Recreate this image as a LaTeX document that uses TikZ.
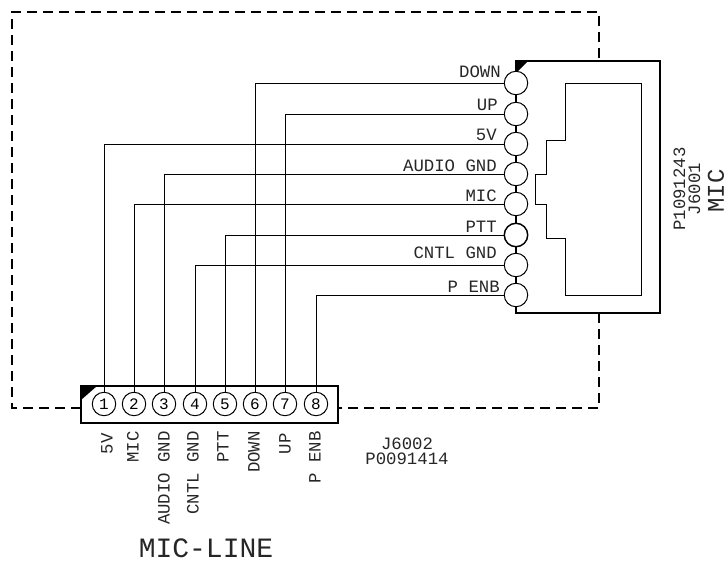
\documentclass[tikz,border=0pt]{standalone}
\usepackage{fontspec}
\setmonofont{Liberation Mono}
\usepackage{tikz}

\begin{document}
\begin{tikzpicture}[x=0.75pt, y=-0.75pt,
  pin/.style={circle, draw, fill=white, line width=0.75pt, inner sep=0pt, minimum size=17.6pt, font=\ttfamily\fontsize{12}{12}\selectfont},
  body/.style={rectangle, draw, line width=1.6pt, inner sep=0pt, outer sep=0pt},
  wire/.style={line width=0.7pt},
  boundary/.style={line width=1.4pt, dash pattern=on 7.5pt off 4.5pt},
  label/.style={font=\ttfamily\fontsize{13}{11.25}\selectfont, inner sep=0pt, align=center, text=black!85},
  big/.style={font=\ttfamily\fontsize{21}{21}\selectfont, inner sep=0pt, text=black!85}]

\useasboundingbox (0, 0) rectangle (728, 563);

\coordinate (nw) at (12, 12);
\coordinate (ne) at (599, 12);
\coordinate (sw) at (12, 408);
\coordinate (se) at (599, 408);
\coordinate (mictop) at (599, 61);
\coordinate (micbottom) at (599, 313);
\coordinate (lineleft) at (81, 408);
\coordinate (lineright) at (338, 408);

\draw [boundary] (lineleft) -- (sw) -- (nw) -- (ne) -- (mictop);
\draw [boundary] (micbottom) -- (se) -- (lineright);

\node [body, minimum width=108pt, minimum height=189pt] (mic) at (588, 187) {};
\node [body, minimum width=192.75pt, minimum height=27.75pt] (line) at (209.5, 404.5) {};

\fill (mic.north west) -- ++(12, 0) -- ++(-12, 12) -- cycle;
\fill (line.north west) -- ++(16, 0) -- ++(-16, 14) -- cycle;

\draw [wire] (565, 83) -- (641, 83) -- (641, 295) -- (565, 295) -- (565, 238) -- (546, 238)
  -- (546, 204) -- (535, 204) -- (535, 174) -- (546, 174) -- (546, 140) -- (565, 140) -- cycle;

\node [pin] (micdown) at (516, 83) {};
\node [pin] (micup) at (516, 114) {};
\node [pin] (micfive) at (516, 144) {};
\node [pin] (micaudio) at (516, 174) {};
\node [pin] (micmic) at (516, 204) {};
\node [pin, line width=1.1pt] (micptt) at (516, 235) {};
\node [pin] (miccntl) at (516, 265) {};
\node [pin] (micenb) at (516, 295) {};

\node [pin] (one) at (104, 404) {1};
\node [pin] (two) at (134, 404) {2};
\node [pin] (three) at (164, 404) {3};
\node [pin] (four) at (195, 404) {4};
\node [pin] (five) at (225, 404) {5};
\node [pin] (six) at (255, 404) {6};
\node [pin] (seven) at (285, 404) {7};
\node [pin] (eight) at (316, 404) {8};

\draw [wire] (micdown) -| (six);
\draw [wire] (micup) -| (seven);
\draw [wire] (micfive) -| (one);
\draw [wire] (micaudio) -| (three);
\draw [wire] (micmic) -| (two);
\draw [wire] (micptt) -| (five);
\draw [wire] (miccntl) -| (four);
\draw [wire] (micenb) -| (eight);

\node [label, anchor=east] (downtext) at (501, 72) {DOWN};
\node [label, anchor=east] (uptext) at (498, 105) {UP};
\node [label, anchor=east] (fivetext) at (497, 135) {5V};
\node [label, anchor=east] (audiotext) at (497, 166) {AUDIO GND};
\node [label, anchor=east] (mictext) at (497, 196) {MIC};
\node [label, anchor=east] (ptttext) at (497, 227) {PTT};
\node [label, anchor=east] (cntltext) at (497, 253) {CNTL GND};
\node [label, anchor=east] (enbtext) at (500, 287) {P ENB};

\node [label, rotate=90, anchor=east] (fivename) at (107, 433) {5V};
\node [label, rotate=90, anchor=east] (micname) at (133, 431) {MIC};
\node [label, rotate=90, anchor=east] (audioname) at (164, 431) {AUDIO GND};
\node [label, rotate=90, anchor=east] (cntlname) at (193, 431) {CNTL GND};
\node [label, rotate=90, anchor=east] (pttname) at (223, 431) {PTT};
\node [label, rotate=90, anchor=east] (downname) at (254, 431) {DOWN};
\node [label, rotate=90, anchor=east] (upname) at (285, 433) {UP};
\node [label, rotate=90, anchor=east] (enbname) at (315, 431) {P ENB};

\node [label] (linepart) at (407, 451) {J6002\\P0091414};
\node [label, rotate=90] (micpart) at (687, 189) {P1091243\\J6001};
\node [big, font=\ttfamily\fontsize{18}{18}\selectfont, rotate=90] (micside) at (716, 191) {MIC};
\node [big] (linename) at (206, 548) {MIC-LINE};

\end{tikzpicture}
\end{document}
